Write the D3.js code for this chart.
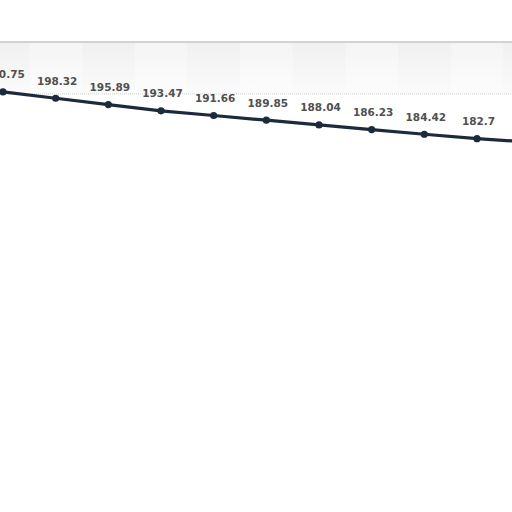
<!DOCTYPE html>
<html>
<head>
<meta charset="utf-8">
<script src="https://cdn.jsdelivr.net/npm/d3@7"></script>
<style>
  html, body { margin: 0; padding: 0; background: #fff; }
  svg { display: block; }
</style>
</head>
<body>
<div id="chart"></div>
<script>
// Values (last one sits just past the right edge, its label is not visible)
const values = [200.75, 198.32, 195.89, 193.47, 191.66, 189.85, 188.04, 186.23, 184.42, 182.7, 181.4];
const labels = ['200.75', '198.32', '195.89', '193.47', '191.66', '189.85', '188.04', '186.23', '184.42', '182.7'];
const gridValues = [200, 220];

const W = 512, H = 512;

const svg = d3.select('#chart')
    .append('svg')
    .attr('width', W)
    .attr('height', H);

// Scales
const xScale = d3.scaleLinear()
    .domain([0, 9])
    .range([3, 477]);

const yScale = d3.scaleLinear()
    .domain([180, 200])
    .range([145.7, 93.9]);

const step = xScale(1) - xScale(0);

// Background band gradient
const grad = svg.append('defs')
    .append('linearGradient')
    .attr('id', 'band')
    .attr('x1', '0%').attr('y1', '0%')
    .attr('x2', '0%').attr('y2', '100%');
grad.append('stop').attr('offset', '0%').attr('stop-color', '#f0f0f0');
grad.append('stop').attr('offset', '100%').attr('stop-color', '#fbfbfb');

svg.append('rect')
    .attr('x', 0)
    .attr('y', yScale(gridValues[1]))
    .attr('width', W)
    .attr('height', yScale(gridValues[0]) - yScale(gridValues[1]))
    .attr('fill', 'url(#band)');

// subtle alternating columns
svg.selectAll('rect.col')
    .data(d3.range(-1, 11).filter(i => i % 2 === 0))
    .enter()
    .append('rect')
    .attr('class', 'col')
    .attr('x', i => xScale(i) + step / 2)
    .attr('y', yScale(gridValues[1]))
    .attr('width', step)
    .attr('height', yScale(gridValues[0]) - yScale(gridValues[1]))
    .attr('fill', '#ffffff')
    .attr('opacity', 0.3);

// Grid lines
svg.append('line')
    .attr('x1', 0).attr('x2', W)
    .attr('y1', yScale(gridValues[1])).attr('y2', yScale(gridValues[1]))
    .attr('stroke', '#c6c6c6')
    .attr('stroke-width', 1.5);

svg.append('line')
    .attr('x1', 0).attr('x2', W)
    .attr('y1', yScale(gridValues[0])).attr('y2', yScale(gridValues[0]))
    .attr('stroke', '#d2d2d2')
    .attr('stroke-width', 1)
    .attr('stroke-dasharray', '1,1');

// Line
const data = values.map((v, i) => ({ i, v, label: labels[i] }));

const line = d3.line()
    .x(d => xScale(d.i))
    .y(d => yScale(d.v));

svg.append('path')
    .datum(data)
    .attr('fill', 'none')
    .attr('stroke', '#1b2b3c')
    .attr('stroke-width', 3.2)
    .attr('stroke-linejoin', 'round')
    .attr('d', line);

svg.selectAll('circle.pt')
    .data(data)
    .enter()
    .append('circle')
    .attr('class', 'pt')
    .attr('cx', d => xScale(d.i))
    .attr('cy', d => yScale(d.v))
    .attr('r', 3.6)
    .attr('fill', '#1b2b3c');

// Data labels
svg.selectAll('text.lbl')
    .data(data.filter(d => d.label))
    .enter()
    .append('text')
    .attr('class', 'lbl')
    .attr('x', d => xScale(d.i) + 1.5)
    .attr('y', d => yScale(d.v) - 13.5)
    .attr('text-anchor', 'middle')
    .style('font-family', 'DejaVu Sans, sans-serif')
    .style('font-size', '10.5px')
    .style('font-weight', '600')
    .style('fill', '#505050')
    .text(d => d.label);
</script>
</body>
</html>
